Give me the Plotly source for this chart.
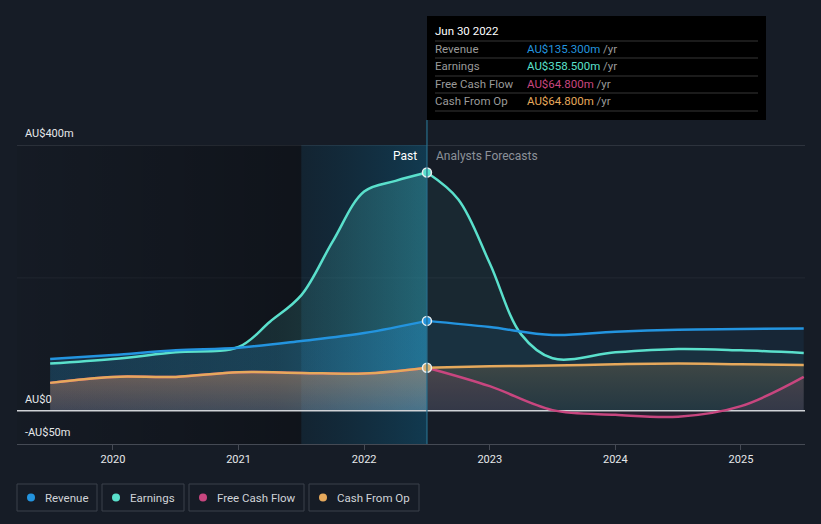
import plotly.graph_objects as go

# ---------------- data ----------------
rev_past_x = [2019.5, 2020.0, 2020.5, 2021.0, 2021.5, 2022.0, 2022.5]
rev_past = [78, 84, 91, 95, 105, 117, 135.3]
rev_fc_x = [2022.5, 2023.0, 2023.5, 2024.0, 2024.5, 2025.0, 2025.5]
rev_fc = [135.3, 126, 114, 119, 122, 123, 124]

earn_past_x = [2019.5, 2020.0, 2020.5, 2021.0, 2021.25, 2021.5, 2021.75, 2022.0, 2022.25, 2022.5]
earn_past = [71, 78, 88, 96, 134, 174, 255, 330, 346, 358.5]
earn_fc_x = [2022.5, 2022.75, 2023.0, 2023.25, 2023.5, 2024.0, 2024.5, 2025.0, 2025.5]
earn_fc = [358.5, 318, 222, 115, 79, 88, 93, 91, 87]

cfo_past_x = [2019.5, 2020.0, 2020.5, 2021.0, 2021.5, 2022.0, 2022.5]
cfo_past = [42, 51, 51, 58, 57, 56, 64.8]
cfo_fc_x = [2022.5, 2023.0, 2023.5, 2024.0, 2024.5, 2025.0, 2025.5]
cfo_fc = [64.8, 67, 68, 70, 71, 70, 69]

fcf_past_x = [2019.5, 2020.0, 2020.5, 2021.0, 2021.5, 2022.0, 2022.5]
fcf_past = [42, 51, 51, 58, 57, 56, 64.8]
fcf_fc_x = [2022.5, 2023.0, 2023.5, 2024.0, 2024.5, 2025.0, 2025.5]
fcf_fc = [64.8, 37, 1, -6, -9, 7, 51]

x_ticks = [2020, 2021, 2022, 2023, 2024, 2025]
x_labels = ["2020", "2021", "2022", "2023", "2024", "2025"]
y_labels = {400: "AU$400m", 0: "AU$0", -50: "-AU$50m"}

tooltip_date = "Jun 30 2022"
tooltip_rows = [("Revenue", "AU$135.300m"), ("Earnings", "AU$358.500m"),
                ("Free Cash Flow", "AU$64.800m"), ("Cash From Op", "AU$64.800m")]

# ---------------- style ----------------
BG = "#161c26"
C_REV = "#2394df"
C_EARN = "#5ae0cc"
C_FCF = "#c8467f"
C_CFO = "#e6a95c"
XMIN, XMAX = 2019.236, 2025.51
YMIN, YMAX = -50, 400
NOW = 2022.5
W, H = 821, 524
L, R, T, B = 17, 16, 145, 80
PW, PH = W - L - R, H - T - B


def px(x):
    return (x - L) / PW


def py(y):
    return (H - B - y) / PH


def rgba(h, a):
    h = h.lstrip("#")
    return f"rgba({int(h[0:2],16)},{int(h[2:4],16)},{int(h[4:6],16)},{a})"


fig = go.Figure()

# background regions
fig.add_trace(go.Scatter(
    x=[XMIN, 2021.5, 2021.5, XMIN], y=[YMIN, YMIN, YMAX, YMAX], fill="toself",
    mode="none", hoverinfo="skip", showlegend=False,
    fillgradient=dict(type="horizontal",
                      colorscale=[[0, "rgba(0,0,0,0.05)"], [1, "rgba(0,0,0,0.3)"]])))
fig.add_trace(go.Scatter(
    x=[2021.5, NOW, NOW, 2021.5], y=[YMIN, YMIN, YMAX, YMAX], fill="toself",
    mode="none", hoverinfo="skip", showlegend=False,
    fillgradient=dict(type="horizontal",
                      colorscale=[[0, "rgba(10,60,85,0.25)"], [1, "rgba(12,90,125,0.48)"]])))


def hgrad(c, a0, a1):
    return dict(type="horizontal", start=2019.5, stop=NOW,
                colorscale=[[0, rgba(c, a0)], [0.6, rgba(c, (a0 + a1) / 2.5)], [1, rgba(c, a1)]])


EARN_FILL = "#4cc8c8"

# past fills
fig.add_trace(go.Scatter(x=earn_past_x, y=earn_past, mode="none", fill="tozeroy", line_shape="spline",
                         fillgradient=hgrad(EARN_FILL, 0.05, 0.3), hoverinfo="skip", showlegend=False))
fig.add_trace(go.Scatter(x=rev_past_x, y=rev_past, mode="none", fill="tozeroy", line_shape="spline",
                         fillgradient=hgrad(C_REV, 0.2, 0.3), hoverinfo="skip", showlegend=False))
fig.add_trace(go.Scatter(x=cfo_past_x, y=cfo_past, mode="none", fill="tozeroy", line_shape="spline",
                         fillgradient=dict(type="vertical", start=0, stop=65,
                                           colorscale=[[0, rgba(C_CFO, 0.12)], [1, rgba(C_CFO, 0.38)]]),
                         hoverinfo="skip", showlegend=False))
fig.add_trace(go.Scatter(x=fcf_past_x, y=fcf_past, mode="none", fill="tozeroy", line_shape="spline",
                         fillcolor=rgba(C_FCF, 0.1), hoverinfo="skip", showlegend=False))

# forecast fills
for xf, yf, c, a in [(earn_fc_x, earn_fc, EARN_FILL, 0.07), (rev_fc_x, rev_fc, C_REV, 0.09)]:
    fig.add_trace(go.Scatter(x=xf, y=yf, mode="none", fill="tozeroy", line_shape="spline",
                             fillcolor=rgba(c, a), hoverinfo="skip", showlegend=False))
fig.add_trace(go.Scatter(x=cfo_fc_x, y=cfo_fc, mode="none", fill="tozeroy", line_shape="spline",
                         fillgradient=dict(type="vertical", start=0, stop=70,
                                           colorscale=[[0, rgba(C_CFO, 0.05)], [1, rgba(C_CFO, 0.18)]]),
                         hoverinfo="skip", showlegend=False))
fig.add_trace(go.Scatter(x=fcf_fc_x, y=fcf_fc, mode="none", fill="tozeroy", line_shape="spline",
                         fillcolor=rgba(C_FCF, 0.1), hoverinfo="skip", showlegend=False))

# zero line
fig.add_trace(go.Scatter(x=[XMIN, XMAX], y=[0, 0], mode="lines",
                         line=dict(color="#cfd2d6", width=1.5),
                         hoverinfo="skip", showlegend=False))

# lines
lines = [
    (fcf_past_x, fcf_past, fcf_fc_x, fcf_fc, C_FCF),
    (cfo_past_x, cfo_past, cfo_fc_x, cfo_fc, C_CFO),
    (earn_past_x, earn_past, earn_fc_x, earn_fc, C_EARN),
    (rev_past_x, rev_past, rev_fc_x, rev_fc, C_REV),
]
for xp, yp, xf, yf, c in lines:
    fig.add_trace(go.Scatter(x=xp, y=yp, mode="lines", line=dict(color=c, width=2.5, shape="spline"),
                             hoverinfo="skip", showlegend=False))
    fig.add_trace(go.Scatter(x=xf, y=yf, mode="lines", line=dict(color=c, width=2.5, shape="spline"),
                             hoverinfo="skip", showlegend=False))

# markers at now
for yv, c in [(rev_past[-1], C_REV), (earn_past[-1], C_EARN), (cfo_past[-1], "#d8b070")]:
    fig.add_trace(go.Scatter(x=[NOW], y=[yv], mode="markers",
                             marker=dict(size=9, color=c, line=dict(color="#e8eef0", width=1.5)),
                             hoverinfo="skip", showlegend=False))

shapes = []
annotations = []

# grid lines
shapes.append(dict(type="line", xref="paper", yref="y", x0=0, x1=1, y0=400, y1=400,
                   line=dict(color="#454a54", width=1), layer="below"))
shapes.append(dict(type="line", xref="paper", yref="y", x0=0, x1=1, y0=200, y1=200,
                   line=dict(color="#232933", width=1), layer="below"))

# y labels
for v, t in y_labels.items():
    annotations.append(dict(x=px(23), y=v, xref="paper", yref="y", text=t, showarrow=False,
                            xanchor="left", yanchor="bottom", yshift=3,
                            font=dict(size=11, color="#e6e8ea")))

# vertical now line
shapes.append(dict(type="line", xref="x", yref="paper", x0=NOW, x1=NOW, y0=0, y1=py(120),
                   line=dict(color="rgba(40,110,140,0.8)", width=1.5), layer="above"))

# Past / Analysts Forecasts
annotations.append(dict(x=px(419), y=py(156), xref="paper", yref="paper", text="Past",
                        showarrow=False, xanchor="right", yanchor="middle",
                        font=dict(size=12, color="#ffffff")))
annotations.append(dict(x=px(434), y=py(156), xref="paper", yref="paper", text="Analysts Forecasts",
                        showarrow=False, xanchor="left", yanchor="middle",
                        font=dict(size=12, color="#8c9199")))

# tooltip
shapes.append(dict(type="rect", xref="paper", yref="paper", x0=px(427), x1=px(766),
                   y0=py(120), y1=py(16), fillcolor="#000000", line=dict(width=0), layer="above"))
for yy in [41, 58, 76, 93, 111]:
    shapes.append(dict(type="line", xref="paper", yref="paper", x0=px(435), x1=px(758),
                       y0=py(yy), y1=py(yy), line=dict(color="#363636", width=1), layer="above"))
annotations.append(dict(x=px(433), y=py(31), xref="paper", yref="paper", text=tooltip_date,
                        showarrow=False, xanchor="left", yanchor="middle",
                        font=dict(size=11.5, color="#ffffff")))
row_cols = [C_REV, C_EARN, C_FCF, C_CFO]
for (lab, val), yy, c in zip(tooltip_rows, [49, 66, 84, 101], row_cols):
    annotations.append(dict(x=px(433), y=py(yy), xref="paper", yref="paper", text=lab,
                            showarrow=False, xanchor="left", yanchor="middle",
                            font=dict(size=11.5, color="#9a9a9a")))
    annotations.append(dict(x=px(525), y=py(yy), xref="paper", yref="paper",
                            text=f"<span style='color:{c}'>{val}</span> /yr",
                            showarrow=False, xanchor="left", yanchor="middle",
                            font=dict(size=11.5, color="#9a9a9a")))

# legend
legend_items = [("Revenue", C_REV, 17, 97), ("Earnings", C_EARN, 102, 184),
                ("Free Cash Flow", C_FCF, 189, 304), ("Cash From Op", C_CFO, 309, 419)]
for name, c, x0, x1 in legend_items:
    shapes.append(dict(type="rect", xref="paper", yref="paper", x0=px(x0), x1=px(x1),
                       y0=py(511), y1=py(484), line=dict(color="#3a404a", width=1),
                       fillcolor="rgba(0,0,0,0)"))
    shapes.append(dict(type="circle", xref="paper", yref="paper", xsizemode="pixel",
                       ysizemode="pixel", xanchor=px(x0 + 14), yanchor=py(497.5),
                       x0=-4, x1=4, y0=-4, y1=4, fillcolor=c, line=dict(width=0)))
    annotations.append(dict(x=px(x0 + 26), y=py(497.5), xref="paper", yref="paper", text=name,
                            showarrow=False, xanchor="left", yanchor="middle",
                            font=dict(size=11.5, color="#d0d3d8")))

fig.update_layout(
    width=W, height=H,
    margin=dict(l=L, r=R, t=T, b=B),
    paper_bgcolor=BG, plot_bgcolor=BG,
    font=dict(family="Roboto, Arial, sans-serif"),
    shapes=shapes, annotations=annotations,
    showlegend=False,
    xaxis=dict(range=[XMIN, XMAX], tickvals=x_ticks, ticktext=x_labels, showgrid=False,
               zeroline=False, showline=True, linecolor="#454a54", linewidth=1,
               ticks="outside", ticklen=5, tickcolor="#454a54",
               tickfont=dict(size=11, color="#e6e8ea"), fixedrange=True),
    yaxis=dict(range=[YMIN, YMAX], showgrid=False, zeroline=False, showticklabels=False,
               fixedrange=True),
)

fig.write_html("out.html", config={"displayModeBar": False, "staticPlot": True},
               post_script="document.body.style.margin='0';document.body.style.overflow='hidden';"
                           "document.body.style.background='#161c26';")
